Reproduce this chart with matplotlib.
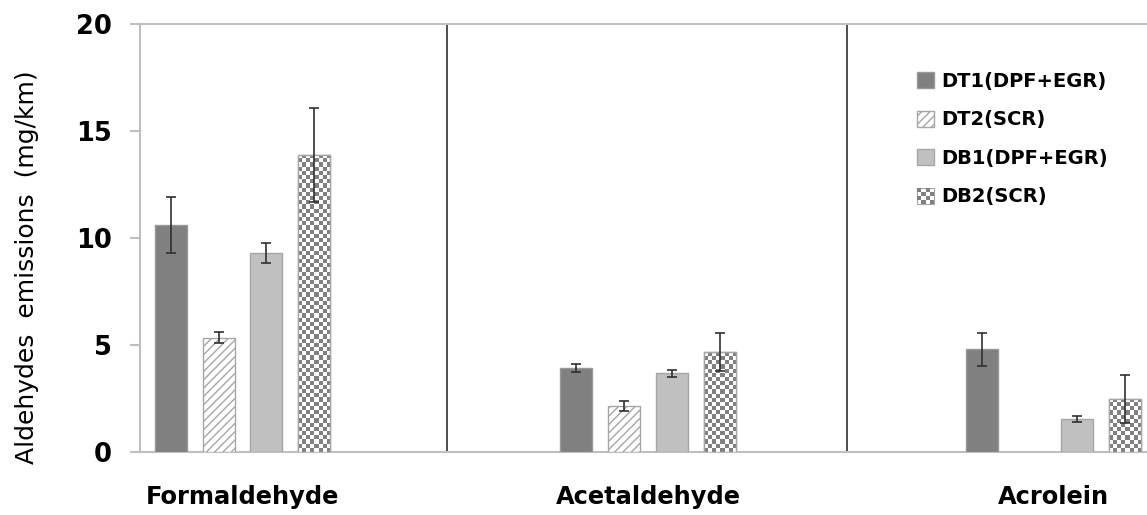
import matplotlib
matplotlib.use("Agg")
import matplotlib.pyplot as plt
import numpy as np
from matplotlib.colors import ListedColormap
from matplotlib.legend_handler import HandlerBase
from matplotlib.patches import Rectangle

# data
categories = ["Formaldehyde", "Acetaldehyde", "Acrolein"]
series = ["DT1(DPF+EGR)", "DT2(SCR)", "DB1(DPF+EGR)", "DB2(SCR)"]
dt1 = [10.6, 3.92, 4.8]
dt2 = [5.35, 2.15, np.nan]
db1 = [9.3, 3.68, 1.55]
db2 = [13.88, 4.67, 2.48]
dt1_err = [1.3, 0.2, 0.78]
dt2_err = [0.25, 0.23, np.nan]
db1_err = [0.45, 0.17, 0.14]
db2_err = [2.2, 0.88, 1.14]
y_ticks = [0, 5, 10, 15, 20]

GRID = "#bfbfbf"
BAR_W = 0.079
STEP = 0.118

plt.rcParams["font.family"] = ["DejaVu Sans"]

fig = plt.figure(figsize=(11.47, 5.15), dpi=100)
ax = fig.add_axes([140 / 1147, 63 / 515, 1 - 140 / 1147, 428 / 515])

x = np.arange(len(categories))
offsets = (np.arange(4) - 1.5) * STEP
errkw = dict(fmt="none", ecolor="#303030", elinewidth=1.2, capsize=3.5, capthick=1.2, zorder=5)

ax.bar(x + offsets[0], dt1, BAR_W, color="#808080", edgecolor="#999999", linewidth=1, zorder=3)
ax.bar(x + offsets[1], dt2, BAR_W, color="white", edgecolor="#a6a6a6", hatch="////", linewidth=1, zorder=3)
ax.bar(x + offsets[2], db1, BAR_W, color="#c0c0c0", edgecolor="#a6a6a6", linewidth=1, zorder=3)
db2_bars = ax.bar(x + offsets[3], db2, BAR_W, color="white", edgecolor="#a6a6a6", linewidth=1, zorder=3)

for off, vals, errs in zip(offsets, [dt1, dt2, db1, db2], [dt1_err, dt2_err, db1_err, db2_err]):
    ax.errorbar(x + off, vals, yerr=errs, **errkw)

ax.set_ylim(0, 20)
ax.set_xlim(-0.253, 2.231)

# checkerboard fill for DB2 bars
checker_cmap = ListedColormap(["white", "#808080"])
for rect in db2_bars:
    x0, w, h = rect.get_x(), rect.get_width(), rect.get_height()
    px_h = ax.transData.transform((0, h))[1] - ax.transData.transform((0, 0))[1]
    nrows = max(1, int(round(px_h / 4.2)))
    grid = np.indices((nrows, 8)).sum(axis=0) % 2
    im = ax.imshow(grid, extent=(x0, x0 + w, 0, h), aspect="auto", cmap=checker_cmap,
                   interpolation="nearest", zorder=3.5)
    im.set_clip_path(rect)
    ax.add_patch(Rectangle((x0, 0), w, h, facecolor="none", edgecolor="#a6a6a6", linewidth=1, zorder=4))

ax.set_ylim(0, 20)
ax.set_xlim(-0.253, 2.231)

for sep in [0.505, 1.492]:
    ax.axvline(sep, color="#404040", linewidth=1.3, zorder=2)

for side in ["left", "bottom", "top"]:
    ax.spines[side].set_color(GRID)
    ax.spines[side].set_linewidth(1.5)
ax.spines["right"].set_visible(False)

ax.set_yticks(y_ticks)
ax.tick_params(axis="y", direction="out", length=7, width=1.5, color=GRID, pad=13, labelsize=18.5)
for lbl in ax.get_yticklabels():
    lbl.set_fontweight("bold")
ax.set_xticks(x, categories)
ax.tick_params(axis="x", length=0, pad=24, labelsize=17.4)
for lbl in ax.get_xticklabels():
    lbl.set_fontweight("bold")

ax.set_ylabel("Aldehydes  emissions  (mg/km)", fontsize=18, va="center")
ax.yaxis.set_label_coords(-0.112, 0.432)


class HandlerChecker(HandlerBase):
    def create_artists(self, legend, orig_handle, xdescent, ydescent, width, height, fontsize, trans):
        n = 4
        cw, ch = width / n, height / n
        arts = [Rectangle((-xdescent, -ydescent), width, height, facecolor="white",
                          edgecolor="#a6a6a6", linewidth=0.8, transform=trans)]
        for i in range(n):
            for j in range(n):
                if (i + j) % 2:
                    arts.append(Rectangle((-xdescent + i * cw, -ydescent + j * ch), cw, ch,
                                          facecolor="#808080", linewidth=0, transform=trans))
        return arts


handles = [
    Rectangle((0, 0), 1, 1, facecolor="#808080", edgecolor="#999999"),
    Rectangle((0, 0), 1, 1, facecolor="white", edgecolor="#a6a6a6", hatch="////"),
    Rectangle((0, 0), 1, 1, facecolor="#c0c0c0", edgecolor="#a6a6a6"),
    Rectangle((0, 0), 1, 1, facecolor="white", edgecolor="#a6a6a6"),
]
leg = fig.legend(handles, series, loc="upper left", bbox_to_anchor=(917 / 1147, 1 - 72 / 515),
                 frameon=False, borderpad=0, borderaxespad=0, handlelength=0.88, handleheight=0.88,
                 handletextpad=0.38, labelspacing=1.0, prop={"weight": "bold", "size": 14},
                 handler_map={handles[3]: HandlerChecker()})

fig.savefig("out.png", dpi=100)
plt.close(fig)
